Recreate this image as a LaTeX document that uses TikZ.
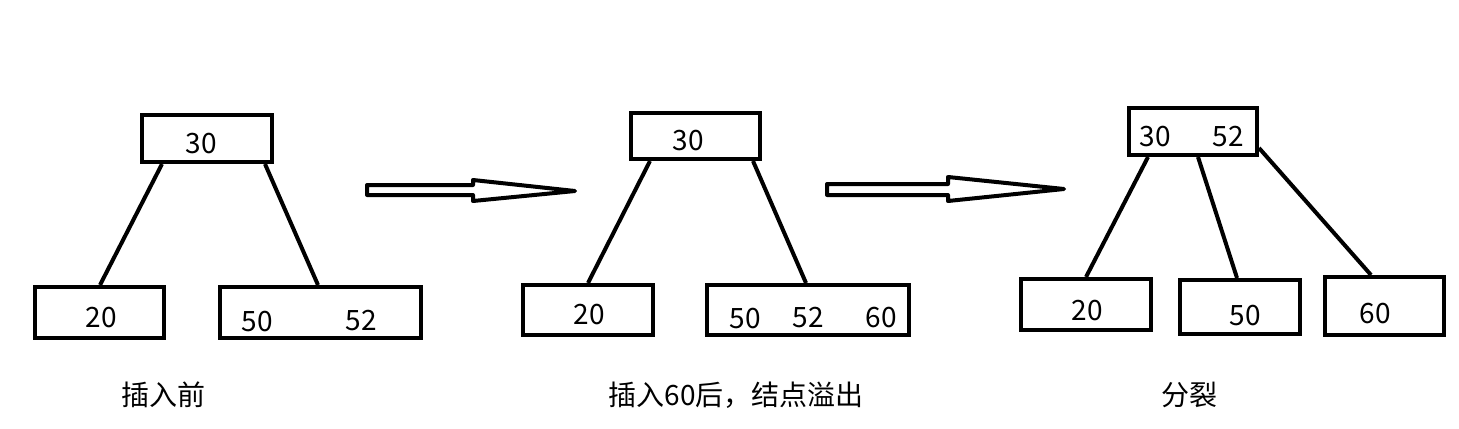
\documentclass[tikz,border=0pt]{standalone}
\usepackage{fontspec}
\setmainfont{Noto Sans CJK SC}
\begin{document}
\begin{tikzpicture}[x=0.5pt,y=-0.5pt,
  box/.style={draw=black,line width=2pt,inner sep=0pt,fill=none},
  lbl/.style={inner sep=0pt,font=\fontsize{14}{16}\selectfont},
  edge/.style={line width=2pt},
  hollowarrow/.style={line width=2pt,line join=round,fill=white}]
\useasboundingbox (0,0) rectangle (1459,428);
% ---- tree 1 ----
\node[box,minimum width=65pt,minimum height=23.5pt] (A1) at (207,138.5) {};
\node[box,minimum width=64.5pt,minimum height=25.5pt] (B1) at (99.5,312.5) {};
\node[box,minimum width=100.5pt,minimum height=25.5pt] (C1) at (320.5,312.5) {};
\node[lbl] (tA1) at (201,144) {30};
\node[lbl] (tB1) at (101,317.5) {20};
\node[lbl] (tC1a) at (257,322) {50};
\node[lbl] (tC1b) at (361,321) {52};
\draw[edge] (A1.south -| 162,0) -- (B1.north -| 100,0);
\draw[edge] (A1.south -| 265,0) -- (C1.north -| 318,0);
% ---- arrow 1 ----
\draw[hollowarrow] (367,185) -- (473,185) -- (473,180) -- (575,191) -- (473,201) -- (473,195) -- (367,195) -- cycle;
% ---- tree 2 ----
\node[box,minimum width=64.5pt,minimum height=23pt] (A2) at (695.5,136) {};
\node[box,minimum width=65pt,minimum height=25pt] (B2) at (588,310) {};
\node[box,minimum width=101pt,minimum height=25pt] (C2) at (808,310) {};
\node[lbl] (tA2) at (688,140.5) {30};
\node[lbl] (tB2) at (589,315) {20};
\node[lbl] (tC2a) at (745,319) {50};
\node[lbl] (tC2b) at (808,318) {52};
\node[lbl] (tC2c) at (881,318) {60};
\draw[edge] (A2.south -| 650,0) -- (B2.north -| 588,0);
\draw[edge] (A2.south -| 753,0) -- (C2.north -| 806,0);
% ---- arrow 2 ----
\draw[hollowarrow] (827,184) -- (948,184) -- (948,177) -- (1064,189) -- (948,201) -- (948,195) -- (827,195) -- cycle;
% ---- tree 3 ----
\node[box,minimum width=64pt,minimum height=23.5pt] (A3) at (1193,131.5) {};
\node[box,minimum width=65pt,minimum height=25.5pt] (B3) at (1086,304.5) {};
\node[box,minimum width=60pt,minimum height=27pt] (C3) at (1240,307) {};
\node[box,minimum width=59.5pt,minimum height=29pt] (D3) at (1384.5,306) {};
\node[lbl] (tA3a) at (1155,137) {30};
\node[lbl] (tA3b) at (1228,137) {52};
\node[lbl] (tB3) at (1087,310.5) {20};
\node[lbl] (tC3) at (1245,315.5) {50};
\node[lbl] (tD3) at (1375,314) {60};
\draw[edge] (A3.south -| 1148,0) -- (B3.north -| 1086,0);
\draw[edge] (A3.south -| 1198,0) -- (C3.north -| 1237,0);
\draw[edge] (A3.east |- 0,148) -- (D3.north -| 1371,0);
% ---- captions ----
\node[lbl] (cap1) at (163,395) {插入前};
\node[lbl] (cap2) at (736,395) {插入60后，结点溢出};
\node[lbl] (cap3) at (1189,395) {分裂};
\end{tikzpicture}
\end{document}
